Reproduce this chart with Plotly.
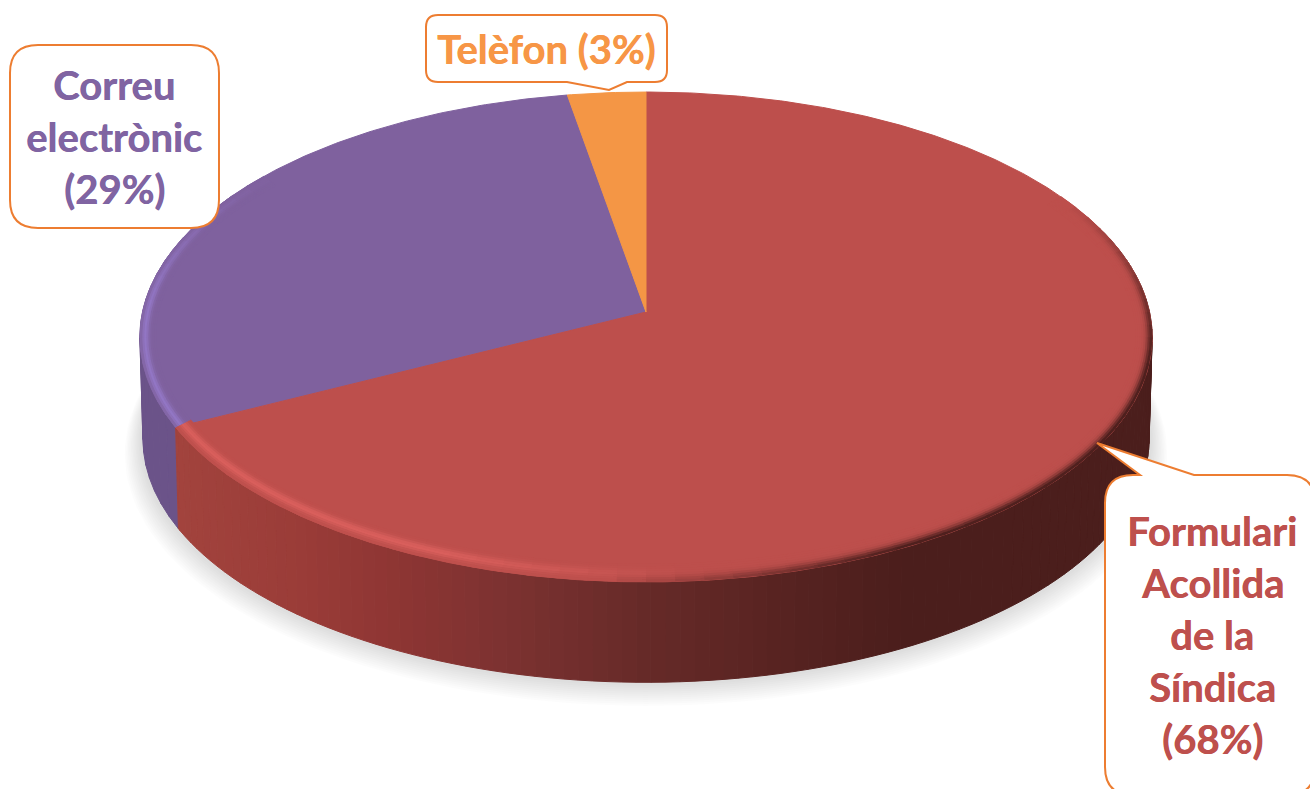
import numpy as np
import plotly.graph_objects as go

# ---- data (slice sizes as measured on the picture; the labels carry the printed percentages)
labels = ["Formulari Acollida de la Síndica", "Correu electrònic", "Telèfon"]
shares = [67.5, 29.75, 2.75]
face_colors = ["#BD4F4C", "#7F619E", "#F49645"]
text_colors = ["#BE504D", "#8064A2", "#F79646"]
label_lines = [
    ["Formulari", "Acollida", "de la", "Síndica", "(68%)"],
    ["Correu", "electrònic", "(29%)"],
    ["Telèfon (3%)"],
]

# ---- pie geometry in page pixels (perspective view of a disc)
W, H = 1310, 789
CX, CY = 646, 312
K, A, B = 0.102, 242.4, 503.5
DEPTH = 102


def project(deg, inset=0.0, scale=1.0, dy=0.0):
    t = np.radians(np.asarray(deg, dtype=float))
    den = 1 + K * np.cos(t)
    x = CX + (B * scale - inset) * np.sin(t) / den
    y = CY - (A * scale - inset) * np.cos(t) / den
    return x, y + dy


def hex2rgb(c):
    return np.array([int(c[i:i + 2], 16) for i in (1, 3, 5)], dtype=float)


def mix(a, b, w):
    return a + (b - a) * float(np.clip(w, 0, 1))


def css(v):
    return "rgb(%d,%d,%d)" % tuple(np.round(v))


fig = go.Figure()
edges = np.concatenate([[0], np.cumsum(shares)]) / sum(shares) * 360


def poly(x, y, fill, line=None, lw=1):
    fig.add_trace(go.Scatter(
        x=list(x), y=list(y), mode="lines", fill="toself", fillcolor=fill,
        line=dict(color=line or fill, width=lw), hoverinfo="skip", showlegend=False))


# soft shadow under the disc
for i in range(11):
    g = i / 10
    ang = np.linspace(0, 360, 181)
    sx, sy = project(ang, scale=1.03 - 0.03 * g, dy=DEPTH + 14 - 12 * g)
    fig.add_trace(go.Scatter(
        x=sx, y=sy, mode="lines", fill="toself", fillcolor="rgba(0,0,0,0.012)",
        line=dict(width=0), hoverinfo="skip", showlegend=False))

# side wall
wall_x = [177, 300, 400, 500, 646, 760, 900, 1160]
wall_c = ["#A2433D", "#9A3C38", "#8D3533", "#7D3231", "#662A28", "#5A2422", "#4B1E1C", "#4B1E1C"]
wall_rgb = np.array([hex2rgb(c) for c in wall_c])


def wall_colour(x):
    return css([np.interp(x, wall_x, wall_rgb[:, i]) for i in range(3)])


purple_wall = np.arange(edges[1], 300, 3.0)
for a0 in purple_wall:
    seg = np.array([a0, a0 + 3.0])
    tx, ty = project(seg)
    bx, by = project(seg, scale=0.994, dy=DEPTH)
    poly(np.r_[tx, bx[::-1], tx[0]], np.r_[ty, by[::-1], ty[0]], "#6B5389")

red_steps = np.arange(70, edges[1], 1.5)
for a0 in red_steps:
    a1 = min(a0 + 1.5, edges[1])
    seg = np.array([a0, a1])
    tx, ty = project(seg)
    bx, by = project(seg, scale=0.994, dy=DEPTH)
    poly(np.r_[tx, bx[::-1], tx[0]], np.r_[ty, by[::-1], ty[0]], wall_colour(tx.mean()))

# top face slices
for i in [1, 0, 2]:
    ang = np.linspace(edges[i], edges[i + 1], max(3, int((edges[i + 1] - edges[i]) * 2)))
    ax, ay = project(ang)
    poly(np.r_[CX, ax, CX], np.r_[CY, ay, CY], face_colors[i])

# bevel along the rim of the top face
face_red = hex2rgb(face_colors[0])
light_red = hex2rgb("#DE625F")
dark_red = hex2rgb("#4B1E1C")
face_pur = hex2rgb(face_colors[1])
light_pur = hex2rgb("#9276C4")
for d in np.arange(15, -1, -2.0):
    h = np.exp(-((d - 7.5) / 4.0) ** 2)
    k = np.exp(-((d - 0) / 5.0) ** 2)
    for a0 in np.arange(60, edges[1], 3.0):
        a1 = min(a0 + 3.4, edges[1])
        seg = np.array([a0, a1])
        x, y = project(seg, inset=d)
        xm = x.mean()
        light = np.clip((700 - xm) / 260, 0, 1) * h * 0.85
        dark = np.clip((xm - 600) / 300, 0, 1) * np.clip((a0 - 60) / 40, 0, 1) * k
        col = mix(mix(face_red, light_red, light), dark_red, dark)
        fig.add_trace(go.Scatter(x=x, y=y, mode="lines", line=dict(color=css(col), width=2.6),
                                 hoverinfo="skip", showlegend=False))
    for a0 in np.arange(edges[1], 305, 3.0):
        seg = np.array([a0, a0 + 3.4])
        x, y = project(seg, inset=d)
        light = np.clip((305 - a0) / 35, 0, 1) * np.exp(-((d - 5) / 3.5) ** 2)
        col = mix(face_pur, light_pur, light)
        fig.add_trace(go.Scatter(x=x, y=y, mode="lines", line=dict(color=css(col), width=2.6),
                                 hoverinfo="skip", showlegend=False))

# callouts
OR = "#ED7D31"
box_paths = [
    # Formulari box with tail
    "M 1133 475 L 1140 475 L 1097 443 L 1194 475 L 1287 475 Q 1315 475 1315 503 "
    "L 1315 767 Q 1315 795 1287 795 L 1133 795 Q 1105 795 1105 767 L 1105 503 Q 1105 475 1133 475 Z",
    # Correu box
    "M 38 45 L 191 45 Q 219 45 219 73 L 219 200 Q 219 228 191 228 L 38 228 Q 10 228 10 200 "
    "L 10 73 Q 10 45 38 45 Z",
    # Telèfon box with tail
    "M 438 15 L 655 15 Q 667 15 667 27 L 667 70 Q 667 82 655 82 L 627 82 L 609 90 L 567 82 "
    "L 438 82 Q 426 82 426 70 L 426 27 Q 426 15 438 15 Z",
]
shapes = [dict(type="path", path=p, xref="x", yref="y", fillcolor="white",
               line=dict(color=OR, width=2), layer="above") for p in box_paths]

line_gap = 52
centres = [(1212, 531), (114, 85), (546, 49)]
anns = []
for lines, col, (cx, y0) in zip(label_lines, text_colors, centres):
    for n, t in enumerate(lines):
        anns.append(dict(x=cx, y=y0 + n * line_gap, text=t, showarrow=False, xref="x", yref="y",
                         xanchor="center", yanchor="middle",
                         font=dict(family="Lato", size=40, color=col, weight="bold",
                                   shadow="0.5px 0 0 " + col)))

fig.update_layout(
    width=W, height=H, margin=dict(l=0, r=0, t=0, b=0),
    paper_bgcolor="white", plot_bgcolor="white", showlegend=False,
    xaxis=dict(range=[0, W], visible=False, fixedrange=True),
    yaxis=dict(range=[H, 0], visible=False, fixedrange=True),
    shapes=shapes, annotations=anns,
)
fig.write_html("out.html", config=dict(displayModeBar=False),
               post_script="document.body.style.margin='0';document.body.style.overflow='hidden';")
